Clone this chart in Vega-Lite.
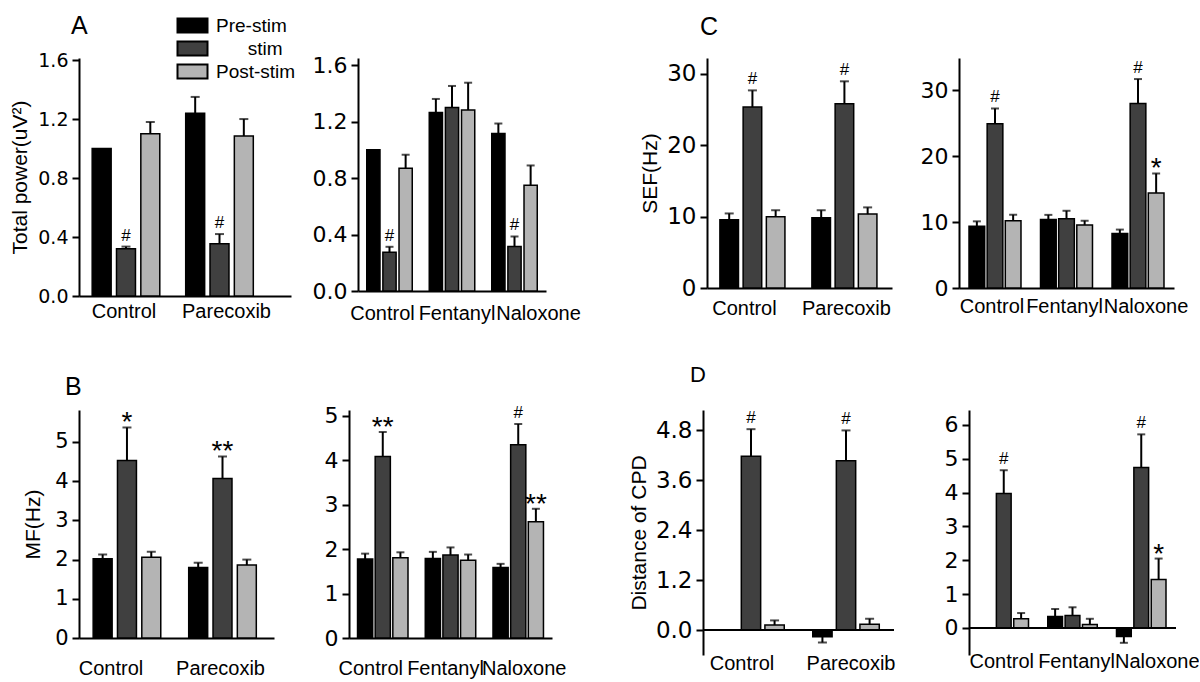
{
  "$schema": "https://vega.github.io/schema/vega-lite/v6.json",
  "background": "white",
  "padding": {"left": 9, "top": 14, "right": 0, "bottom": 2},
  "config": {
    "font": "Liberation Sans",
    "view": {"stroke": null},
    "axis": {"domainColor": "black", "domainWidth": 2, "tickColor": "black", "tickWidth": 2, "tickSize": 7, "labelColor": "black", "titleColor": "black", "grid": false, "labelFont": "Liberation Sans", "titleFont": "Liberation Sans", "titleFontWeight": "normal", "titleFontSize": 21, "labelPadding": 4, "titlePadding": 7},
    "axisY": {"labelFont": "DejaVu Sans"},
    "axisX": {"labelFont": "Liberation Sans", "labelFontSize": 20},
    "title": {"font": "Liberation Sans", "fontSize": 25, "fontWeight": "normal", "color": "black", "anchor": "start", "frame": "group"},
    "text": {"font": "Liberation Sans", "color": "black"}
  },
  "datasets": {
    "a1": [
      {"group": "Control", "cond": "Pre-stim", "value": 1.0, "hi": null, "sig": null},
      {"group": "Control", "cond": "stim", "value": 0.32, "hi": 0.335, "sig": "#"},
      {"group": "Control", "cond": "Post-stim", "value": 1.10, "hi": 1.18, "sig": null},
      {"group": "Parecoxib", "cond": "Pre-stim", "value": 1.24, "hi": 1.35, "sig": null},
      {"group": "Parecoxib", "cond": "stim", "value": 0.355, "hi": 0.42, "sig": "#"},
      {"group": "Parecoxib", "cond": "Post-stim", "value": 1.085, "hi": 1.20, "sig": null}
    ],
    "a2": [
      {"group": "Control", "cond": "Pre-stim", "value": 1.0, "hi": null, "sig": null},
      {"group": "Control", "cond": "stim", "value": 0.275, "hi": 0.313, "sig": "#"},
      {"group": "Control", "cond": "Post-stim", "value": 0.87, "hi": 0.965, "sig": null},
      {"group": "Fentanyl", "cond": "Pre-stim", "value": 1.264, "hi": 1.36, "sig": null},
      {"group": "Fentanyl", "cond": "stim", "value": 1.30, "hi": 1.452, "sig": null},
      {"group": "Fentanyl", "cond": "Post-stim", "value": 1.282, "hi": 1.475, "sig": null},
      {"group": "Naloxone", "cond": "Pre-stim", "value": 1.115, "hi": 1.186, "sig": null},
      {"group": "Naloxone", "cond": "stim", "value": 0.315, "hi": 0.386, "sig": "#"},
      {"group": "Naloxone", "cond": "Post-stim", "value": 0.748, "hi": 0.889, "sig": null}
    ],
    "c1": [
      {"group": "Control", "cond": "Pre-stim", "value": 9.56, "hi": 10.45, "sig": null},
      {"group": "Control", "cond": "stim", "value": 25.36, "hi": 27.7, "sig": "#"},
      {"group": "Control", "cond": "Post-stim", "value": 9.99, "hi": 10.9, "sig": null},
      {"group": "Parecoxib", "cond": "Pre-stim", "value": 9.84, "hi": 10.9, "sig": null},
      {"group": "Parecoxib", "cond": "stim", "value": 25.83, "hi": 28.97, "sig": "#"},
      {"group": "Parecoxib", "cond": "Post-stim", "value": 10.36, "hi": 11.3, "sig": null}
    ],
    "c2": [
      {"group": "Control", "cond": "Pre-stim", "value": 9.36, "hi": 10.1, "sig": null},
      {"group": "Control", "cond": "stim", "value": 24.9, "hi": 27.2, "sig": "#"},
      {"group": "Control", "cond": "Post-stim", "value": 10.2, "hi": 11.1, "sig": null},
      {"group": "Fentanyl", "cond": "Pre-stim", "value": 10.37, "hi": 11.08, "sig": null},
      {"group": "Fentanyl", "cond": "stim", "value": 10.5, "hi": 11.7, "sig": null},
      {"group": "Fentanyl", "cond": "Post-stim", "value": 9.56, "hi": 10.2, "sig": null},
      {"group": "Naloxone", "cond": "Pre-stim", "value": 8.24, "hi": 8.85, "sig": null},
      {"group": "Naloxone", "cond": "stim", "value": 27.97, "hi": 31.66, "sig": "#"},
      {"group": "Naloxone", "cond": "Post-stim", "value": 14.4, "hi": 17.35, "sig": "*"}
    ],
    "b1": [
      {"group": "Control", "cond": "Pre-stim", "value": 2.02, "hi": 2.13, "sig": null},
      {"group": "Control", "cond": "stim", "value": 4.53, "hi": 5.37, "sig": "*"},
      {"group": "Control", "cond": "Post-stim", "value": 2.06, "hi": 2.2, "sig": null},
      {"group": "Parecoxib", "cond": "Pre-stim", "value": 1.80, "hi": 1.92, "sig": null},
      {"group": "Parecoxib", "cond": "stim", "value": 4.07, "hi": 4.63, "sig": "**"},
      {"group": "Parecoxib", "cond": "Post-stim", "value": 1.86, "hi": 2.0, "sig": null}
    ],
    "b2": [
      {"group": "Control", "cond": "Pre-stim", "value": 1.78, "hi": 1.90, "sig": null},
      {"group": "Control", "cond": "stim", "value": 4.09, "hi": 4.64, "sig": "**"},
      {"group": "Control", "cond": "Post-stim", "value": 1.81, "hi": 1.93, "sig": null},
      {"group": "Fentanyl", "cond": "Pre-stim", "value": 1.79, "hi": 1.94, "sig": null},
      {"group": "Fentanyl", "cond": "stim", "value": 1.87, "hi": 2.04, "sig": null},
      {"group": "Fentanyl", "cond": "Post-stim", "value": 1.75, "hi": 1.88, "sig": null},
      {"group": "Naloxone", "cond": "Pre-stim", "value": 1.59, "hi": 1.67, "sig": null},
      {"group": "Naloxone", "cond": "stim", "value": 4.35, "hi": 4.82, "sig": "#"},
      {"group": "Naloxone", "cond": "Post-stim", "value": 2.62, "hi": 2.91, "sig": "**"}
    ],
    "d1": [
      {"group": "Control", "cond": "Pre-stim", "value": 0, "hi": null, "sig": null},
      {"group": "Control", "cond": "stim", "value": 4.17, "hi": 4.82, "sig": "#"},
      {"group": "Control", "cond": "Post-stim", "value": 0.12, "hi": 0.23, "sig": null},
      {"group": "Parecoxib", "cond": "Pre-stim", "value": -0.16, "hi": -0.30, "sig": null},
      {"group": "Parecoxib", "cond": "stim", "value": 4.06, "hi": 4.79, "sig": "#"},
      {"group": "Parecoxib", "cond": "Post-stim", "value": 0.14, "hi": 0.27, "sig": null}
    ],
    "d2": [
      {"group": "Control", "cond": "Pre-stim", "value": 0, "hi": null, "sig": null},
      {"group": "Control", "cond": "stim", "value": 3.97, "hi": 4.66, "sig": "#"},
      {"group": "Control", "cond": "Post-stim", "value": 0.27, "hi": 0.44, "sig": null},
      {"group": "Fentanyl", "cond": "Pre-stim", "value": 0.34, "hi": 0.56, "sig": null},
      {"group": "Fentanyl", "cond": "stim", "value": 0.365, "hi": 0.61, "sig": null},
      {"group": "Fentanyl", "cond": "Post-stim", "value": 0.10, "hi": 0.27, "sig": null},
      {"group": "Naloxone", "cond": "Pre-stim", "value": -0.25, "hi": -0.44, "sig": null},
      {"group": "Naloxone", "cond": "stim", "value": 4.74, "hi": 5.72, "sig": "#"},
      {"group": "Naloxone", "cond": "Post-stim", "value": 1.43, "hi": 2.05, "sig": "*"}
    ]
  },
  "bounds": "flush",
  "spacing": 352,
  "resolve": {"scale": {"xOffset": "independent"}},
  "vconcat": [
    {
      "bounds": "flush",
      "spacing": 67,
      "resolve": {"scale": {"xOffset": "independent"}},
      "hconcat": [
        {
          "width": 212, "height": 238,
          "data": {"name": "a1"},
          "title": {"text": "A", "dx": -8, "offset": 12},
          "encoding": {
            "x": {"field": "group", "type": "nominal", "sort": ["Control", "Parecoxib"], "scale": {"paddingInner": 0.251, "paddingOuter": 0.259, "align": 0.247},
                  "axis": {"title": null, "labelAngle": 0, "ticks": false, "labelPadding": 5, "labelOffset": {"condition": [{"test": "datum.value == 'Control'", "value": -2}], "value": 7}}},
            "xOffset": {"field": "cond", "type": "nominal", "sort": ["Pre-stim", "stim", "Post-stim"], "scale": {"paddingInner": 0.22, "paddingOuter": 0.05}}
          },
          "layer": [
            {"mark": {"type": "bar", "stroke": "black", "strokeWidth": 1.5},
             "encoding": {
               "y": {"field": "value", "type": "quantitative", "scale": {"domain": [0, 1.614], "nice": false}, "axis": {"title": "Total power(uV²)", "values": [0, 0.4, 0.8, 1.2, 1.6], "format": ".1f", "labelFontSize": 19}},
               "color": {"field": "cond", "type": "nominal", "scale": {"domain": ["Pre-stim", "stim", "Post-stim"], "range": ["#000000", "#404040", "#b4b4b4"]},
                 "legend": {"title": null, "orient": "none", "legendX": 104, "legendY": -42, "symbolType": "M-2,-0.933H2V0.933H-2Z", "symbolSize": 225, "symbolStrokeColor": "black", "symbolStrokeWidth": 2, "symbolOpacity": 1, "labelFontSize": 19, "labelColor": "black", "labelFont": "Liberation Sans", "rowPadding": 0, "labelOffset": 14, "labelExpr": "datum.label == 'stim' ? '\u200b\u00a0\u00a0\u00a0\u00a0\u00a0\u00a0stim' : datum.label"}}
             }},
            {"transform": [{"filter": "isValid(datum.hi)"}], "mark": {"type": "rule", "color": "black", "strokeWidth": 2}, "encoding": {"y": {"field": "value", "type": "quantitative"}, "y2": {"field": "hi"}}},
            {"transform": [{"filter": "isValid(datum.hi)"}], "mark": {"type": "tick", "color": "black", "thickness": 2, "size": 9}, "encoding": {"y": {"field": "hi", "type": "quantitative"}}},
            {"transform": [{"filter": "datum.sig == '#'"}], "mark": {"type": "text", "fontSize": 17, "baseline": "alphabetic", "dy": -6}, "encoding": {"y": {"field": "hi", "type": "quantitative"}, "text": {"field": "sig"}}},
            {"transform": [{"filter": "datum.sig == '*' || datum.sig == '**'"}], "mark": {"type": "text", "fontSize": 28, "baseline": "alphabetic", "dy": 4}, "encoding": {"y": {"field": "hi", "type": "quantitative"}, "text": {"field": "sig"}}}
          ]
        },
        {
          "width": 188, "height": 233,
          "data": {"name": "a2"},
          "encoding": {
            "x": {"field": "group", "type": "nominal", "sort": ["Control", "Fentanyl", "Naloxone"], "scale": {"paddingInner": 0.272, "paddingOuter": 0.14, "align": 0.5},
                  "axis": {"title": null, "labelAngle": 0, "ticks": false, "labelPadding": 12, "labelOffset": {"condition": [{"test": "datum.value == 'Control'", "value": -7}, {"test": "datum.value == 'Fentanyl'", "value": 5}], "value": 24}}},
            "xOffset": {"field": "cond", "type": "nominal", "sort": ["Pre-stim", "stim", "Post-stim"], "scale": {"paddingInner": 0.18, "paddingOuter": 0}}
          },
          "layer": [
            {"mark": {"type": "bar", "stroke": "black", "strokeWidth": 1.5},
             "encoding": {
               "y": {"field": "value", "type": "quantitative", "scale": {"domain": [0, 1.65], "nice": false}, "axis": {"title": null, "values": [0, 0.4, 0.8, 1.2, 1.6], "format": ".1f", "labelFontSize": 22}},
               "color": {"field": "cond", "type": "nominal", "scale": {"domain": ["Pre-stim", "stim", "Post-stim"], "range": ["#000000", "#404040", "#b4b4b4"]}, "legend": {"labelExpr": "datum.label == 'stim' ? '\u200b\u00a0\u00a0\u00a0\u00a0\u00a0\u00a0stim' : datum.label"}}
             }},
            {"transform": [{"filter": "isValid(datum.hi)"}], "mark": {"type": "rule", "color": "black", "strokeWidth": 2}, "encoding": {"y": {"field": "value", "type": "quantitative"}, "y2": {"field": "hi"}}},
            {"transform": [{"filter": "isValid(datum.hi)"}], "mark": {"type": "tick", "color": "black", "thickness": 2, "size": 8}, "encoding": {"y": {"field": "hi", "type": "quantitative"}}},
            {"transform": [{"filter": "datum.sig == '#'"}], "mark": {"type": "text", "fontSize": 17, "baseline": "alphabetic", "dy": -6}, "encoding": {"y": {"field": "hi", "type": "quantitative"}, "text": {"field": "sig"}}},
            {"transform": [{"filter": "datum.sig == '*' || datum.sig == '**'"}], "mark": {"type": "text", "fontSize": 28, "baseline": "alphabetic", "dy": 4}, "encoding": {"y": {"field": "hi", "type": "quantitative"}, "text": {"field": "sig"}}}
          ]
        },
        {"width": 27, "height": 1, "data": {"values": []}, "mark": "point", "encoding": {}},
        {
          "width": 185, "height": 230,
          "data": {"name": "c1"},
          "title": {"text": "C", "dx": -7, "offset": 18},
          "encoding": {
            "x": {"field": "group", "type": "nominal", "sort": ["Control", "Parecoxib"], "scale": {"paddingInner": 0.283, "paddingOuter": 0.147, "align": 0.46},
                  "axis": {"title": null, "labelAngle": 0, "ticks": false, "labelPadding": 10, "labelOffset": {"condition": [{"test": "datum.value == 'Control'", "value": -8}], "value": 2}}},
            "xOffset": {"field": "cond", "type": "nominal", "sort": ["Pre-stim", "stim", "Post-stim"], "scale": {"paddingInner": 0.2, "paddingOuter": 0.02}}
          },
          "layer": [
            {"mark": {"type": "bar", "stroke": "black", "strokeWidth": 1.5},
             "encoding": {
               "y": {"field": "value", "type": "quantitative", "scale": {"domain": [0, 32.24], "nice": false}, "axis": {"title": "SEF(Hz)", "values": [0, 10, 20, 30], "labelFontSize": 23, "titlePadding": 6}},
               "color": {"field": "cond", "type": "nominal", "scale": {"domain": ["Pre-stim", "stim", "Post-stim"], "range": ["#000000", "#404040", "#b4b4b4"]}, "legend": {"labelExpr": "datum.label == 'stim' ? '\u200b\u00a0\u00a0\u00a0\u00a0\u00a0\u00a0stim' : datum.label"}}
             }},
            {"transform": [{"filter": "isValid(datum.hi)"}], "mark": {"type": "rule", "color": "black", "strokeWidth": 2}, "encoding": {"y": {"field": "value", "type": "quantitative"}, "y2": {"field": "hi"}}},
            {"transform": [{"filter": "isValid(datum.hi)"}], "mark": {"type": "tick", "color": "black", "thickness": 2, "size": 9}, "encoding": {"y": {"field": "hi", "type": "quantitative"}}},
            {"transform": [{"filter": "datum.sig == '#'"}], "mark": {"type": "text", "fontSize": 17, "baseline": "alphabetic", "dy": -6}, "encoding": {"y": {"field": "hi", "type": "quantitative"}, "text": {"field": "sig"}}},
            {"transform": [{"filter": "datum.sig == '*' || datum.sig == '**'"}], "mark": {"type": "text", "fontSize": 28, "baseline": "alphabetic", "dy": 4}, "encoding": {"y": {"field": "hi", "type": "quantitative"}, "text": {"field": "sig"}}}
          ]
        },
        {
          "width": 215, "height": 230,
          "data": {"name": "c2"},
          "encoding": {
            "x": {"field": "group", "type": "nominal", "sort": ["Control", "Fentanyl", "Naloxone"], "scale": {"paddingInner": 0.273, "paddingOuter": 0.14, "align": 0.5},
                  "axis": {"title": null, "labelAngle": 0, "ticks": false, "labelPadding": 8, "labelOffset": {"condition": [{"test": "datum.value == 'Control'", "value": -3}, {"test": "datum.value == 'Fentanyl'", "value": -2}], "value": 8}}},
            "xOffset": {"field": "cond", "type": "nominal", "sort": ["Pre-stim", "stim", "Post-stim"], "scale": {"paddingInner": 0.135, "paddingOuter": 0}}
          },
          "layer": [
            {"mark": {"type": "bar", "stroke": "black", "strokeWidth": 1.5},
             "encoding": {
               "y": {"field": "value", "type": "quantitative", "scale": {"domain": [0, 34.85], "nice": false}, "axis": {"title": null, "values": [0, 10, 20, 30], "labelFontSize": 22}},
               "color": {"field": "cond", "type": "nominal", "scale": {"domain": ["Pre-stim", "stim", "Post-stim"], "range": ["#000000", "#404040", "#b4b4b4"]}, "legend": {"labelExpr": "datum.label == 'stim' ? '\u200b\u00a0\u00a0\u00a0\u00a0\u00a0\u00a0stim' : datum.label"}}
             }},
            {"transform": [{"filter": "isValid(datum.hi)"}], "mark": {"type": "rule", "color": "black", "strokeWidth": 2}, "encoding": {"y": {"field": "value", "type": "quantitative"}, "y2": {"field": "hi"}}},
            {"transform": [{"filter": "isValid(datum.hi)"}], "mark": {"type": "tick", "color": "black", "thickness": 2, "size": 8}, "encoding": {"y": {"field": "hi", "type": "quantitative"}}},
            {"transform": [{"filter": "datum.sig == '#'"}], "mark": {"type": "text", "fontSize": 17, "baseline": "alphabetic", "dy": -6}, "encoding": {"y": {"field": "hi", "type": "quantitative"}, "text": {"field": "sig"}}},
            {"transform": [{"filter": "datum.sig == '*' || datum.sig == '**'"}], "mark": {"type": "text", "fontSize": 28, "baseline": "alphabetic", "dy": 4}, "encoding": {"y": {"field": "hi", "type": "quantitative"}, "text": {"field": "sig"}}}
          ]
        }
      ]
    },
    {
      "bounds": "flush",
      "spacing": 75,
      "resolve": {"scale": {"xOffset": "independent"}},
      "hconcat": [
        {
          "width": 195, "height": 228,
          "data": {"name": "b1"},
          "title": {"text": "B", "dx": -14, "offset": 9},
          "encoding": {
            "x": {"field": "group", "type": "nominal", "sort": ["Control", "Parecoxib"], "scale": {"paddingInner": 0.267, "paddingOuter": 0.154, "align": 0.44},
                  "axis": {"title": null, "labelAngle": 0, "ticks": false, "labelPadding": 20, "labelOffset": {"condition": [{"test": "datum.value == 'Control'", "value": -16}], "value": -2}}},
            "xOffset": {"field": "cond", "type": "nominal", "sort": ["Pre-stim", "stim", "Post-stim"], "scale": {"paddingInner": 0.22, "paddingOuter": 0.05}}
          },
          "layer": [
            {"mark": {"type": "bar", "stroke": "black", "strokeWidth": 1.5},
             "encoding": {
               "y": {"field": "value", "type": "quantitative", "scale": {"domain": [0, 5.816], "nice": false}, "axis": {"title": "MF(Hz)", "values": [0, 1, 2, 3, 4, 5], "labelFontSize": 21, "titlePadding": 11}},
               "color": {"field": "cond", "type": "nominal", "scale": {"domain": ["Pre-stim", "stim", "Post-stim"], "range": ["#000000", "#404040", "#b4b4b4"]}, "legend": {"labelExpr": "datum.label == 'stim' ? '\u200b\u00a0\u00a0\u00a0\u00a0\u00a0\u00a0stim' : datum.label"}}
             }},
            {"transform": [{"filter": "isValid(datum.hi)"}], "mark": {"type": "rule", "color": "black", "strokeWidth": 2}, "encoding": {"y": {"field": "value", "type": "quantitative"}, "y2": {"field": "hi"}}},
            {"transform": [{"filter": "isValid(datum.hi)"}], "mark": {"type": "tick", "color": "black", "thickness": 2, "size": 9}, "encoding": {"y": {"field": "hi", "type": "quantitative"}}},
            {"transform": [{"filter": "datum.sig == '#'"}], "mark": {"type": "text", "fontSize": 17, "baseline": "alphabetic", "dy": -6}, "encoding": {"y": {"field": "hi", "type": "quantitative"}, "text": {"field": "sig"}}},
            {"transform": [{"filter": "datum.sig == '*' || datum.sig == '**'"}], "mark": {"type": "text", "fontSize": 28, "baseline": "alphabetic", "dy": 4}, "encoding": {"y": {"field": "hi", "type": "quantitative"}, "text": {"field": "sig"}}}
          ]
        },
        {
          "width": 203, "height": 228,
          "data": {"name": "b2"},
          "encoding": {
            "x": {"field": "group", "type": "nominal", "sort": ["Control", "Fentanyl", "Naloxone"], "scale": {"paddingInner": 0.255, "paddingOuter": 0.126, "align": 0.5},
                  "axis": {"title": null, "labelAngle": 0, "ticks": false, "labelPadding": 20, "labelOffset": {"condition": [{"test": "datum.value == 'Control'", "value": -12}, {"test": "datum.value == 'Fentanyl'", "value": -5}], "value": 6}}},
            "xOffset": {"field": "cond", "type": "nominal", "sort": ["Pre-stim", "stim", "Post-stim"], "scale": {"paddingInner": 0.14, "paddingOuter": 0}}
          },
          "layer": [
            {"mark": {"type": "bar", "stroke": "black", "strokeWidth": 1.5},
             "encoding": {
               "y": {"field": "value", "type": "quantitative", "scale": {"domain": [0, 5.135], "nice": false}, "axis": {"title": null, "values": [0, 1, 2, 3, 4, 5], "labelFontSize": 22}},
               "color": {"field": "cond", "type": "nominal", "scale": {"domain": ["Pre-stim", "stim", "Post-stim"], "range": ["#000000", "#404040", "#b4b4b4"]}, "legend": {"labelExpr": "datum.label == 'stim' ? '\u200b\u00a0\u00a0\u00a0\u00a0\u00a0\u00a0stim' : datum.label"}}
             }},
            {"transform": [{"filter": "isValid(datum.hi)"}], "mark": {"type": "rule", "color": "black", "strokeWidth": 2}, "encoding": {"y": {"field": "value", "type": "quantitative"}, "y2": {"field": "hi"}}},
            {"transform": [{"filter": "isValid(datum.hi)"}], "mark": {"type": "tick", "color": "black", "thickness": 2, "size": 8}, "encoding": {"y": {"field": "hi", "type": "quantitative"}}},
            {"transform": [{"filter": "datum.sig == '#'"}], "mark": {"type": "text", "fontSize": 17, "baseline": "alphabetic", "dy": -6}, "encoding": {"y": {"field": "hi", "type": "quantitative"}, "text": {"field": "sig"}}},
            {"transform": [{"filter": "datum.sig == '*' || datum.sig == '**'"}], "mark": {"type": "text", "fontSize": 28, "baseline": "alphabetic", "dy": 4}, "encoding": {"y": {"field": "hi", "type": "quantitative"}, "text": {"field": "sig"}}}
          ]
        },
        {"width": 1, "height": 1, "data": {"values": []}, "mark": "point", "encoding": {}},
        {
          "width": 191, "height": 245,
          "data": {"name": "d1"},
          "title": {"text": "D", "dx": -13, "offset": 22, "fontSize": 22},
          "layer": [
            {
              "encoding": {
                "x": {"field": "group", "type": "nominal", "sort": ["Control", "Parecoxib"], "scale": {"paddingInner": 0.29, "paddingOuter": 0.15, "align": 0.5},
                      "axis": {"title": null, "labelAngle": 0, "ticks": false, "domain": false, "labelPadding": -2, "labelOffset": {"condition": [{"test": "datum.value == 'Control'", "value": -9}], "value": 5}}},
                "xOffset": {"field": "cond", "type": "nominal", "sort": ["Pre-stim", "stim", "Post-stim"], "scale": {"paddingInner": 0.18, "paddingOuter": 0.02}}
              },
              "layer": [
                {"mark": {"type": "bar", "stroke": "black", "strokeWidth": 1.5},
                 "encoding": {
                   "y": {"field": "value", "type": "quantitative", "scale": {"domain": [-0.6, 5.28], "nice": false}, "axis": {"title": "Distance of CPD", "values": [0, 1.2, 2.4, 3.6, 4.8], "format": ".1f", "labelFontSize": 23, "titlePadding": 6}},
                   "color": {"field": "cond", "type": "nominal", "scale": {"domain": ["Pre-stim", "stim", "Post-stim"], "range": ["#000000", "#404040", "#b4b4b4"]}, "legend": {"labelExpr": "datum.label == 'stim' ? '\u200b\u00a0\u00a0\u00a0\u00a0\u00a0\u00a0stim' : datum.label"}}
                 }},
                {"transform": [{"filter": "isValid(datum.hi)"}], "mark": {"type": "rule", "color": "black", "strokeWidth": 2}, "encoding": {"y": {"field": "value", "type": "quantitative"}, "y2": {"field": "hi"}}},
                {"transform": [{"filter": "isValid(datum.hi)"}], "mark": {"type": "tick", "color": "black", "thickness": 2, "size": 9}, "encoding": {"y": {"field": "hi", "type": "quantitative"}}},
                {"transform": [{"filter": "datum.sig == '#'"}], "mark": {"type": "text", "fontSize": 17, "baseline": "alphabetic", "dy": -6}, "encoding": {"y": {"field": "hi", "type": "quantitative"}, "text": {"field": "sig"}}},
                {"transform": [{"filter": "datum.sig == '*' || datum.sig == '**'"}], "mark": {"type": "text", "fontSize": 28, "baseline": "alphabetic", "dy": 4}, "encoding": {"y": {"field": "hi", "type": "quantitative"}, "text": {"field": "sig"}}}
              ]
            },
            {"data": {"values": [{"zero": 0}]}, "mark": {"type": "rule", "color": "black", "strokeWidth": 2}, "encoding": {"y": {"field": "zero", "type": "quantitative"}}}
          ]
        },
        {
          "width": 207, "height": 245,
          "data": {"name": "d2"},
          "layer": [
            {
              "encoding": {
                "x": {"field": "group", "type": "nominal", "sort": ["Control", "Fentanyl", "Naloxone"], "scale": {"paddingInner": 0.28, "paddingOuter": 0.1455, "align": 0.5},
                      "axis": {"title": null, "labelAngle": 0, "ticks": false, "domain": false, "labelPadding": -4, "labelOffset": {"condition": [{"test": "datum.value == 'Control'", "value": -2}, {"test": "datum.value == 'Fentanyl'", "value": 4}], "value": 16}}},
                "xOffset": {"field": "cond", "type": "nominal", "sort": ["Pre-stim", "stim", "Post-stim"], "scale": {"paddingInner": 0.15, "paddingOuter": 0}}
              },
              "layer": [
                {"mark": {"type": "bar", "stroke": "black", "strokeWidth": 1.5},
                 "encoding": {
                   "y": {"field": "value", "type": "quantitative", "scale": {"domain": [-0.8, 6.44], "nice": false}, "axis": {"title": null, "values": [0, 1, 2, 3, 4, 5, 6], "labelFontSize": 22}},
                   "color": {"field": "cond", "type": "nominal", "scale": {"domain": ["Pre-stim", "stim", "Post-stim"], "range": ["#000000", "#404040", "#b4b4b4"]}, "legend": {"labelExpr": "datum.label == 'stim' ? '\u200b\u00a0\u00a0\u00a0\u00a0\u00a0\u00a0stim' : datum.label"}}
                 }},
                {"transform": [{"filter": "isValid(datum.hi)"}], "mark": {"type": "rule", "color": "black", "strokeWidth": 2}, "encoding": {"y": {"field": "value", "type": "quantitative"}, "y2": {"field": "hi"}}},
                {"transform": [{"filter": "isValid(datum.hi)"}], "mark": {"type": "tick", "color": "black", "thickness": 2, "size": 8}, "encoding": {"y": {"field": "hi", "type": "quantitative"}}},
                {"transform": [{"filter": "datum.sig == '#'"}], "mark": {"type": "text", "fontSize": 17, "baseline": "alphabetic", "dy": -6}, "encoding": {"y": {"field": "hi", "type": "quantitative"}, "text": {"field": "sig"}}},
                {"transform": [{"filter": "datum.sig == '*' || datum.sig == '**'"}], "mark": {"type": "text", "fontSize": 28, "baseline": "alphabetic", "dy": 4}, "encoding": {"y": {"field": "hi", "type": "quantitative"}, "text": {"field": "sig"}}}
              ]
            },
            {"data": {"values": [{"zero": 0}]}, "mark": {"type": "rule", "color": "black", "strokeWidth": 2}, "encoding": {"y": {"field": "zero", "type": "quantitative"}}}
          ]
        }
      ]
    }
  ]
}
